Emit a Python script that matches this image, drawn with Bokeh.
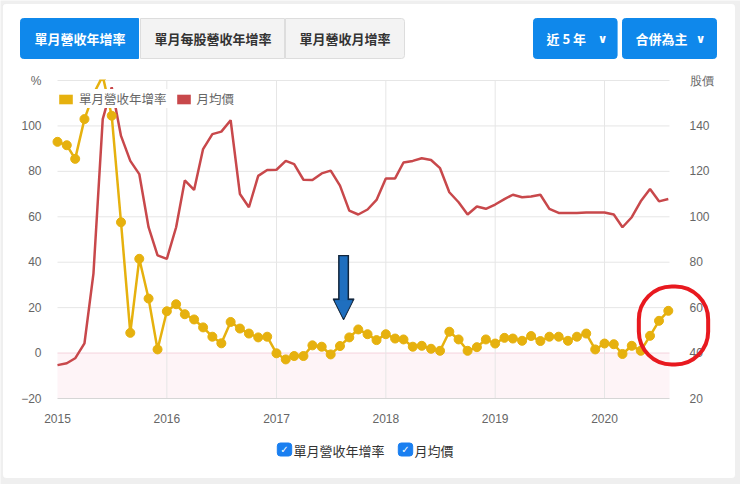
import pandas as pd
from bokeh.plotting import figure
from bokeh.models import (Range1d, LinearAxis, FixedTicker, DatetimeTickFormatter,
                          BoxAnnotation, Legend, LegendItem, Label, Arrow, NormalHead)
from bokeh.embed import file_html
from bokeh.resources import INLINE

# monthly data, Jan 2015 .. Aug 2020
months = pd.date_range("2015-01-01", periods=68, freq="MS")
yoy = [93.0, 91.5, 85.5, 103.0, 114.0, 122.0, 104.5, 57.6, 8.9, 41.5, 24.0, 1.6,
       18.4, 21.5, 17.1, 14.8, 11.3, 7.2, 4.3, 13.7, 10.8, 8.6, 6.9, 7.2,
       -0.1, -2.8, -1.3, -1.3, 3.4, 2.8, -0.6, 3.1, 6.9, 10.4, 8.3, 5.7,
       8.3, 6.4, 6.0, 2.8, 3.2, 1.9, 1.0, 9.4, 6.0, 1.0, 2.6, 6.0,
       4.2, 6.7, 6.4, 5.4, 7.5, 5.3, 7.2, 7.2, 5.4, 7.2, 8.6, 1.6,
       4.2, 3.9, -0.4, 3.2, 1.0, 7.6, 14.2, 18.6]
price = [34.7, 35.5, 37.7, 44.3, 75.0, 143.0, 157.0, 135.6, 124.6, 118.8, 95.4, 83.0,
         81.5, 95.4, 116.0, 111.8, 129.8, 136.4, 137.5, 142.5, 110.0, 104.2, 118.0, 120.6,
         120.7, 124.6, 123.2, 116.3, 116.2, 119.1, 120.3, 113.7, 102.7, 101.0, 103.2, 107.4,
         116.9, 116.9, 123.9, 124.6, 125.8, 125.0, 121.4, 110.8, 106.4, 101.0, 104.5, 103.5,
         105.4, 107.8, 109.7, 108.6, 108.9, 109.7, 103.5, 101.7, 101.7, 101.7, 101.9, 101.9,
         101.9, 101.0, 95.4, 99.8, 106.8, 112.2, 106.8, 107.8]
years = [2015, 2016, 2017, 2018, 2019, 2020]
yoy_ticks = [-20, 0, 20, 40, 60, 80, 100, 120]
price_ticks = [20, 40, 60, 80, 100, 120, 140, 160]
tabs = ["單月營收年增率", "單月每股營收年增率", "單月營收月增率"]
menus = ["近 5 年", "合併為主"]
series_names = ["單月營收年增率", "月均價"]

YELLOW = "#e6b10e"
RED = "#c8484b"
BLUE = "#0f88eb"
CJK = "Noto Sans CJK TC"
NUM = "Liberation Sans"

# canvas and plot-area geometry (page pixels)
W, H = 740, 484
PL, PR, PT, PB = 57, 669, 80, 398
X0, X1 = pd.Timestamp("2015-01-01"), pd.Timestamp("2020-08-05")
Y0, Y1 = -20, 120

x0_ms, x1_ms = X0.value / 1e6, X1.value / 1e6
kx = (x1_ms - x0_ms) / (PR - PL)
ky = (Y1 - Y0) / (PB - PT)
x_range = Range1d(x0_ms - PL * kx, x1_ms + (W - PR) * kx)
y_range = Range1d(Y0 - (H - PB) * ky, Y1 + PT * ky)
price_range = Range1d(y_range.start + 40, y_range.end + 40)


def sx(px):
    return px


def sy(py):
    return H - py


def dx(px):
    # page pixel -> data x (ms)
    return x0_ms + (px - PL) * kx


def dy(py):
    # page pixel -> data y (%)
    return Y0 + (PB - py) * ky


p = figure(x_axis_type="datetime", width=W, height=H, min_border=0,
           x_range=x_range, y_range=y_range, output_backend="svg", toolbar_location=None,
           background_fill_color="#efefef", border_fill_color="#efefef")
p.outline_line_color = None
p.grid.visible = False
p.extra_y_ranges = {"price": price_range}

# white card
p.add_layout(BoxAnnotation(left=dx(2), right=dx(735), top=dy(3), bottom=dy(478),
                           fill_color="white", fill_alpha=1, line_color="#dedede",
                           line_width=1, border_radius=4, level="underlay"))

year_ms = [pd.Timestamp(f"{y}-01-01").value / 1e6 for y in years]
xa = p.xaxis[0]
xa.ticker = FixedTicker(ticks=year_ms)
xa.formatter = DatetimeTickFormatter(years="%Y", months="%Y", days="%Y", hours="%Y")
xa.fixed_location = Y0
xa.bounds = (x0_ms, x1_ms)
xa.axis_line_color = "#d6d6d6"
xa.major_label_standoff = 9

ya = p.yaxis[0]
ya.ticker = FixedTicker(ticks=yoy_ticks)
ya.major_label_overrides = {120: "%", -20: "−20"}
ya.fixed_location = x0_ms
ya.major_label_standoff = 10

yr = LinearAxis(y_range_name="price", ticker=FixedTicker(ticks=price_ticks),
                major_label_overrides={160: "股價"})
yr.fixed_location = x1_ms
yr.major_label_standoff = 14
p.add_layout(yr, "right")

for ax in [xa, ya, yr]:
    ax.major_tick_line_color = None
    ax.minor_tick_line_color = None
    ax.major_label_text_font = NUM
    ax.major_label_text_font_size = "12px"
    ax.major_label_text_color = "#666666"
ya.axis_line_color = None
yr.axis_line_color = None

# negative zone and zero line
p.add_layout(BoxAnnotation(bottom=Y0, top=0, left=x0_ms, right=x1_ms, fill_color="#fdf0f4",
                           fill_alpha=0.7, line_color=None, level="underlay"))
p.add_layout(BoxAnnotation(bottom=0, top=0, left=x0_ms, right=x1_ms, fill_alpha=0,
                           line_color="#eba9ba", line_width=1.5, level="underlay"))

# grid lines, limited to the plot area
grid_y = [t for t in yoy_ticks if t not in (Y0, 0)]
p.segment(x0=x0_ms, x1=x1_ms, y0=grid_y, y1=grid_y, line_color="#e6e6e6", line_width=1)
p.segment(x0=year_ms[1:], x1=year_ms[1:], y0=Y0, y1=Y1, line_color="#e6e6e6", line_width=1)

r_price = p.line(months, price, y_range_name="price", line_color=RED, line_width=2.5)
r_yoy = p.line(months, yoy, line_color=YELLOW, line_width=2.5)
p.scatter(months, yoy, size=9, fill_color=YELLOW, line_color=YELLOW)

# hide whatever runs above the plot area
p.add_layout(BoxAnnotation(bottom=Y1 + ky, top=dy(60), left=dx(PL - 8), right=dx(PR + 8),
                           fill_color="white", fill_alpha=1, line_color=None,
                           level="overlay"))

# legend swatches (one NaN row each, so only the legend shows them)
nan = float("nan")
d1 = p.quad(left=[nan], right=[nan], top=[nan], bottom=[nan], fill_color=YELLOW, line_color=None)
d2 = p.quad(left=[nan], right=[nan], top=[nan], bottom=[nan], fill_color=RED, line_color=None)
legend = Legend(items=[LegendItem(label=series_names[0], renderers=[d1]),
                       LegendItem(label=series_names[1], renderers=[d2])],
                location=(sx(PL), sy(108)), orientation="horizontal", margin=0, padding=7,
                spacing=8, label_standoff=5, glyph_width=17, glyph_height=12,
                label_height=14, label_text_font_size="12.5px", label_text_color="#666666",
                label_text_font=CJK, background_fill_alpha=1, border_line_color=None)
p.add_layout(legend)

# blue arrow
ax_ms = pd.Timestamp("2017-08-13").value / 1e6
p.add_layout(Arrow(x_start=ax_ms, y_start=43.2, x_end=ax_ms, y_end=14.6, line_width=11,
                   line_color="#12263d",
                   end=NormalHead(size=21, fill_color="#12263d", line_color="#12263d")))
p.add_layout(Arrow(x_start=ax_ms, y_start=42.6, x_end=ax_ms, y_end=15.6, line_width=8,
                   line_color="#1f6fbf",
                   end=NormalHead(size=17, fill_color="#1f6fbf", line_color="#1f6fbf")))

# red circle (padding is (horizontal, vertical))
p.add_layout(Label(x=sx(673), y=sy(325), x_units="screen", y_units="screen", text=" ",
                   anchor="center", padding=(33, 32), border_radius=33,
                   border_line_color="#e8191f", border_line_width=4,
                   background_fill_color=None, text_font_size="12px"))

# tab buttons (padding is (left, right, top, bottom))
tab_left = [20, 140, 285]
tab_pad = [(14, 13), (14, 13), (14, 14)]
tab_radius = [(3, 0, 0, 3), (0, 0, 0, 0), (0, 3, 3, 0)]
for i, t in enumerate(tabs):
    active = i == 0
    p.add_layout(Label(x=sx(tab_left[i]), y=sy(18), x_units="screen", y_units="screen",
                       text=t, anchor="top_left", text_font=CJK, text_font_size="13px",
                       text_font_style="bold",
                       text_color="white" if active else "#333333",
                       padding=(tab_pad[i][0], tab_pad[i][1], 10, 11),
                       border_radius=tab_radius[i],
                       background_fill_color=BLUE if active else "#f3f3f3",
                       border_line_color=BLUE if active else "#dddddd",
                       border_line_width=1))

menu_left = [533, 622]
menu_pad_r = [31, 29]
for i, t in enumerate(menus):
    p.add_layout(Label(x=sx(menu_left[i]), y=sy(18), x_units="screen", y_units="screen",
                       text=t, anchor="top_left", text_font=CJK, text_font_size="13px",
                       text_font_style="bold", text_color="white",
                       padding=(13, menu_pad_r[i], 10, 11), border_radius=3,
                       background_fill_color=BLUE, border_line_color=BLUE))
chev_x = [602, 700]
for cx in chev_x:
    p.add_layout(Label(x=sx(cx), y=sy(38), x_units="screen", y_units="screen",
                       text="∨", anchor="center", text_font="DejaVu Sans",
                       text_font_size="12px", text_font_style="bold", text_color="white"))

# checkbox legend
box_x = [284, 405]
text_x = [293, 414]
for i, name in enumerate(series_names):
    p.add_layout(Label(x=sx(box_x[i]), y=sy(449), x_units="screen", y_units="screen",
                       text="✓", anchor="center", text_font="DejaVu Sans",
                       text_font_size="10px", text_font_style="bold", text_color="white",
                       padding=(3, 1), border_radius=3,
                       background_fill_color="#1a7ff0", border_line_color="#1a7ff0"))
    p.add_layout(Label(x=sx(text_x[i]), y=sy(450), x_units="screen", y_units="screen",
                       text=name, text_align="left", text_baseline="middle",
                       text_font=CJK, text_font_size="13px", text_color="#333333"))

open("out.html", "w").write(file_html(p, INLINE))
